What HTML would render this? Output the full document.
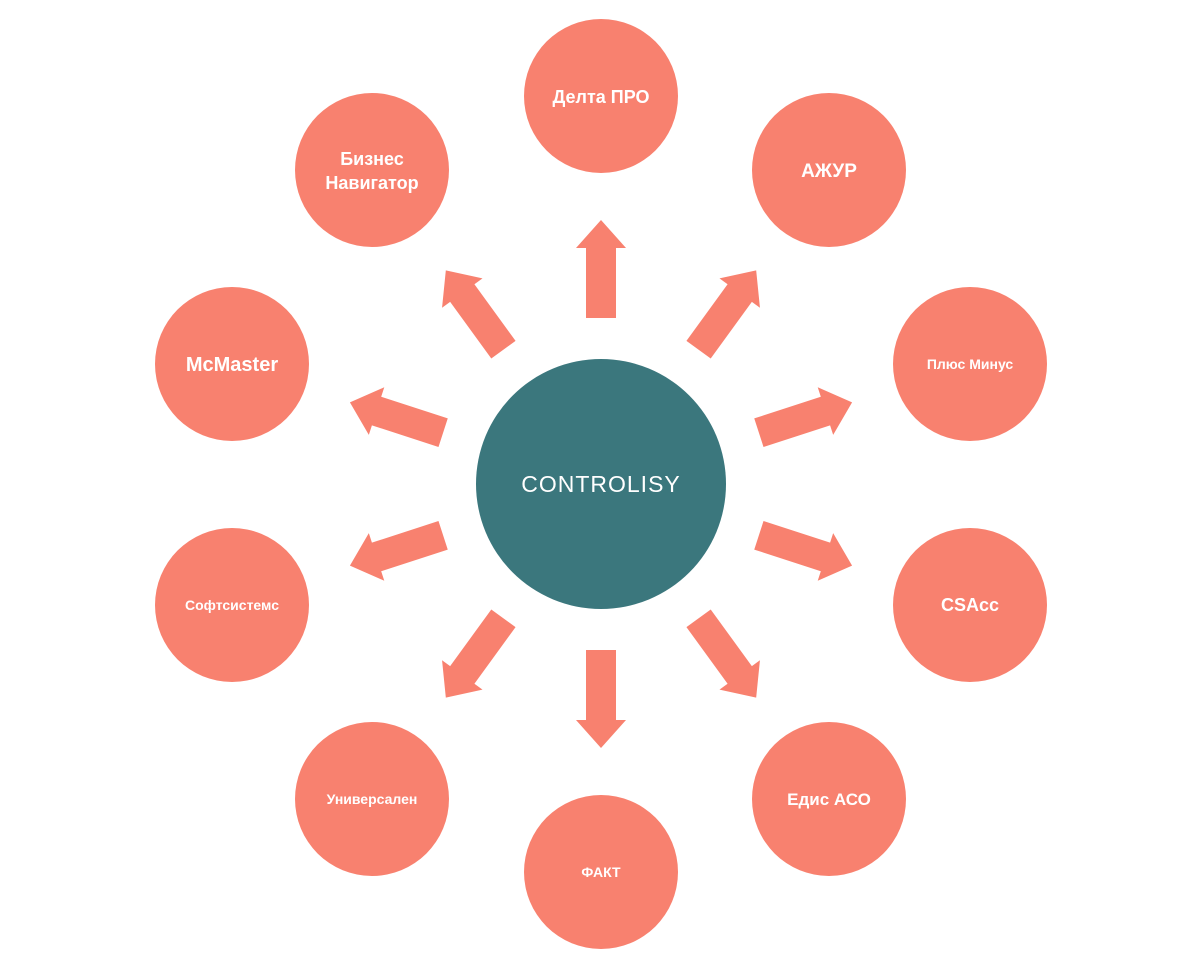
<!DOCTYPE html>
<html><head><meta charset="utf-8"><style>html,body{margin:0;padding:0;background:#fff}svg{display:block}</style></head>
<body>
<svg width="1200" height="968" viewBox="0 0 1200 968" xmlns="http://www.w3.org/2000/svg" font-family="'Liberation Sans', 'DejaVu Sans', sans-serif">
<defs>
<polygon id="ar" points="166,-15 236,-15 236,-25 264,0 236,25 236,15 166,15" fill="#f8816f"/>
</defs>
<g transform="translate(601,484)">
<use href="#ar" transform="rotate(-90)"/>
<use href="#ar" transform="rotate(-54)"/>
<use href="#ar" transform="rotate(-18)"/>
<use href="#ar" transform="rotate(18)"/>
<use href="#ar" transform="rotate(54)"/>
<use href="#ar" transform="rotate(90)"/>
<use href="#ar" transform="rotate(126)"/>
<use href="#ar" transform="rotate(162)"/>
<use href="#ar" transform="rotate(198)"/>
<use href="#ar" transform="rotate(234)"/>
</g>
<circle cx="601" cy="484" r="125" fill="#3b777d"/>
<text x="601" y="492" text-anchor="middle" fill="#fff" font-size="23" letter-spacing="1">CONTROLISY</text>
<g fill="#f8816f">
<circle cx="601" cy="96" r="77"/>
<circle cx="829" cy="170" r="77"/>
<circle cx="970" cy="364" r="77"/>
<circle cx="970" cy="605" r="77"/>
<circle cx="829" cy="799" r="77"/>
<circle cx="601" cy="872" r="77"/>
<circle cx="372" cy="799" r="77"/>
<circle cx="232" cy="605" r="77"/>
<circle cx="232" cy="364" r="77"/>
<circle cx="372" cy="170" r="77"/>
</g>
<g fill="#fff" font-weight="bold" text-anchor="middle">
<text x="601" y="103" font-size="18">Делта ПРО</text>
<text x="829" y="177" font-size="19">АЖУР</text>
<text x="970" y="369" font-size="14">Плюс Минус</text>
<text x="970" y="611" font-size="18">CSAcc</text>
<text x="829" y="805" font-size="17">Едис АСО</text>
<text x="601" y="877" font-size="14">ФАКТ</text>
<text x="372" y="804" font-size="14">Универсален</text>
<text x="232" y="610" font-size="14">Софтсистемс</text>
<text x="232" y="371" font-size="20">McMaster</text>
<text x="372" y="165" font-size="18">Бизнес</text>
<text x="372" y="189" font-size="18">Навигатор</text>
</g>
</svg>
</body></html>
